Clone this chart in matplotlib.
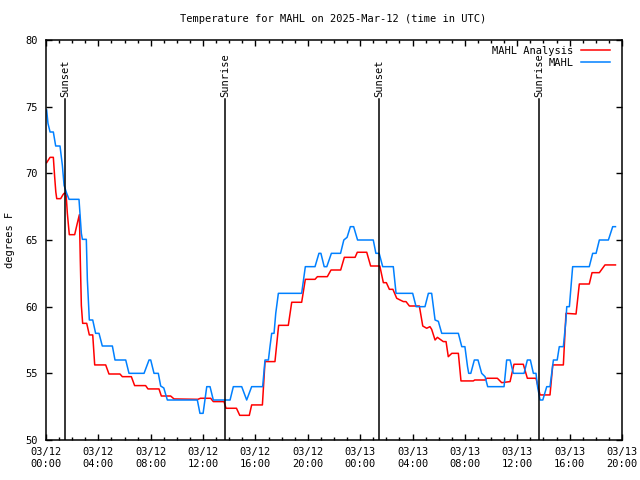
###
###    Temperature for MAHL, obs vs analysis (gnuplot look-alike)
###

import matplotlib
matplotlib.use('Agg')
import matplotlib.pyplot as plt
from matplotlib.ticker import MultipleLocator


###     Data (hours since 2025-03-12 00:00 UTC, degrees F)

analysis_hours = [0.05, 0.31, 0.56, 0.66, 0.75, 0.82, 1.12, 1.3, 1.38, 1.53, 1.63, 1.78, 2.19, 2.39, 2.55,
                  2.62, 2.7, 2.8, 3.11, 3.31, 3.57, 3.72, 4.56, 4.81, 5.65, 5.83, 6.52, 6.77, 7.61, 7.79,
                  8.63, 8.81, 9.52, 9.78, 11.6, 11.8, 12.58, 12.78, 13.6, 13.75, 14.55, 14.8, 15.53, 15.71,
                  16.53, 16.73, 17.49, 17.77, 18.51, 18.77, 19.53, 19.81, 20.55, 20.73, 21.49, 21.77, 22.51,
                  22.79, 23.61, 23.78, 24.5, 24.8, 25.5, 25.77, 26.0, 26.23, 26.5, 26.79, 27.05, 27.3, 27.5,
                  27.76, 28.52, 28.78, 29.08, 29.33, 29.46, 29.72, 29.9, 30.35, 30.56, 30.73, 31.0, 31.5,
                  31.7, 32.64, 32.75, 33.54, 33.67, 34.48, 34.81, 35.45, 35.75, 36.46, 36.77, 37.43, 37.74,
                  38.5, 38.71, 39.52, 39.72, 40.49, 40.74, 41.5, 41.71, 42.27, 42.7, 43.5]
analysis_temp = [70.8, 71.2, 71.2, 69.75, 68.6, 68.1, 68.1, 68.4, 68.5, 68.5, 67.0, 65.4, 65.4, 66.25, 66.9,
                 63.5, 60.1, 58.75, 58.75, 57.88, 57.88, 55.63, 55.63, 54.95, 54.95, 54.75, 54.75, 54.08,
                 54.08, 53.83, 53.83, 53.3, 53.3, 53.08, 53.05, 53.13, 53.13, 52.88, 52.88, 52.38, 52.38,
                 51.85, 51.85, 52.63, 52.63, 55.88, 55.88, 58.6, 58.6, 60.33, 60.33, 62.05, 62.05, 62.25,
                 62.25, 62.75, 62.75, 63.7, 63.7, 64.08, 64.08, 63.05, 63.05, 61.8, 61.8, 61.3, 61.3, 60.63,
                 60.5, 60.38, 60.38, 60.05, 60.05, 58.55, 58.38, 58.5, 58.3, 57.5, 57.7, 57.38, 57.38,
                 56.25, 56.5, 56.5, 54.43, 54.43, 54.5, 54.5, 54.63, 54.63, 54.3, 54.38, 55.68, 55.68,
                 54.63, 54.63, 53.38, 53.38, 55.63, 55.63, 59.5, 59.45, 61.7, 61.7, 62.55, 62.55, 63.13,
                 63.13]

obs_hours = [0.05, 0.15, 0.31, 0.56, 0.74, 1.07, 1.25, 1.38, 1.58, 1.76, 2.52, 2.7, 2.78, 3.08, 3.16, 3.26,
             3.31, 3.57, 3.79, 4.05, 4.3, 5.07, 5.27, 6.09, 6.34, 7.49, 7.87, 8.0, 8.25, 8.58, 8.76, 9.0,
             9.27, 11.56, 11.76, 12.0, 12.28, 12.53, 12.78, 14.06, 14.31, 14.95, 15.33, 15.71, 16.55,
             16.73, 16.99, 17.11, 17.24, 17.42, 17.55, 17.75, 19.53, 19.81, 20.55, 20.85, 21.0, 21.25,
             21.45, 21.8, 22.5, 22.75, 23.0, 23.25, 23.5, 23.8, 25.0, 25.2, 25.45, 25.72, 26.53, 26.74,
             28.01, 28.27, 28.95, 29.21, 29.46, 29.72, 29.97, 30.23, 31.5, 31.76, 32.0, 32.2, 32.29,
             32.45, 32.72, 33.0, 33.28, 33.54, 33.74, 34.99, 35.19, 35.45, 35.7, 36.52, 36.77, 37.0,
             37.23, 37.43, 37.55, 37.74, 37.95, 38.25, 38.5, 38.76, 39.05, 39.21, 39.52, 39.72, 39.78,
             39.98, 40.23, 41.5, 41.76, 42.02, 42.27, 42.96, 43.29, 43.5]
obs_temp = [74.75, 73.75, 73.1, 73.1, 72.05, 72.05, 70.6, 69.1, 68.5, 68.05, 68.05, 65.5, 65.05, 65.05, 62.0,
            60.0, 59.0, 59.0, 58.0, 58.0, 57.05, 57.05, 56.0, 56.0, 55.0, 55.0, 56.0, 56.0, 55.0, 55.0,
            54.05, 53.9, 53.0, 53.0, 52.0, 52.0, 54.0, 54.0, 53.0, 53.0, 54.0, 54.0, 53.0, 54.0, 54.0,
            56.0, 56.0, 57.0, 58.0, 58.0, 59.5, 61.0, 61.0, 63.0, 63.0, 64.0, 64.0, 63.0, 63.0, 64.0,
            64.0, 65.0, 65.2, 66.0, 66.0, 65.0, 65.0, 64.0, 64.0, 63.0, 63.0, 61.0, 61.0, 60.0, 60.0,
            61.0, 61.0, 59.0, 58.9, 58.0, 58.0, 57.0, 57.0, 55.5, 55.0, 55.0, 56.0, 56.0, 55.0, 54.75,
            54.0, 54.0, 56.0, 56.0, 55.0, 55.0, 56.0, 56.0, 55.0, 55.0, 54.0, 53.0, 53.0, 54.0, 54.0,
            56.0, 56.0, 57.0, 57.0, 59.0, 60.0, 60.0, 63.0, 63.0, 64.0, 64.0, 65.0, 65.0, 66.0, 66.0]

sun_hours = [1.45, 13.70, 25.45, 37.68]
sun_names = ['Sunset', 'Sunrise', 'Sunset', 'Sunrise']

tick_hours = [0, 4, 8, 12, 16, 20, 24, 28, 32, 36, 40, 44]
tick_labels = ['03/12\n00:00', '03/12\n04:00', '03/12\n08:00', '03/12\n12:00', '03/12\n16:00',
               '03/12\n20:00', '03/13\n00:00', '03/13\n04:00', '03/13\n08:00', '03/13\n12:00',
               '03/13\n16:00', '03/13\n20:00']


###     Plot

plt.rcParams['font.family'] = ['DejaVu Sans Mono']
fs = 7.5

fig = plt.figure(figsize=(6.4, 4.8), dpi=100)
ax = fig.add_axes([46 / 640, 1 - 440 / 480, 576 / 640, 400 / 480])

ax.plot(analysis_hours, analysis_temp, color='#ff0000', lw=1.1, label='MAHL Analysis')
ax.plot(obs_hours, obs_temp, color='#0080ff', lw=1.1, label='MAHL')

for h, name in zip(sun_hours, sun_names):
    ax.plot([h, h], [50, 75.55], color='black', lw=1.1)
    ax.text(h, 75.75, name, rotation=90, ha='center', va='bottom', fontsize=fs)

ax.set_xlim(0, 44)
ax.set_ylim(50, 80)
ax.set_xticks(tick_hours)
ax.set_xticklabels(tick_labels, fontsize=fs, linespacing=1.3)
ax.xaxis.set_minor_locator(MultipleLocator(1))
ax.set_yticks([50, 55, 60, 65, 70, 75, 80])
ax.tick_params(axis='both', which='both', direction='in', top=True, right=True, width=1, colors='black')
ax.tick_params(axis='x', which='major', length=4, pad=5)
ax.tick_params(axis='x', which='minor', length=2.5)
ax.tick_params(axis='y', which='major', length=4.3, pad=6, labelsize=fs)
for s in ax.spines.values():
    s.set_linewidth(1.1)

# legend: text right-aligned, sample line on the right (gnuplot style)
leg = ax.legend(loc='upper right', bbox_to_anchor=(0.979, 0.985), frameon=False, markerfirst=False,
                fontsize=fs, handlelength=2.8, handletextpad=0.7, labelspacing=0.15,
                borderpad=0.0, borderaxespad=0.0)

fig.text(0.52, 0.96, 'Temperature for MAHL on 2025-Mar-12 (time in UTC)', ha='center', va='center',
         fontsize=fs)
fig.text(0.016, 0.5, 'degrees F', rotation=90, ha='center', va='center', fontsize=fs)

plt.savefig('out.png', dpi=100)
